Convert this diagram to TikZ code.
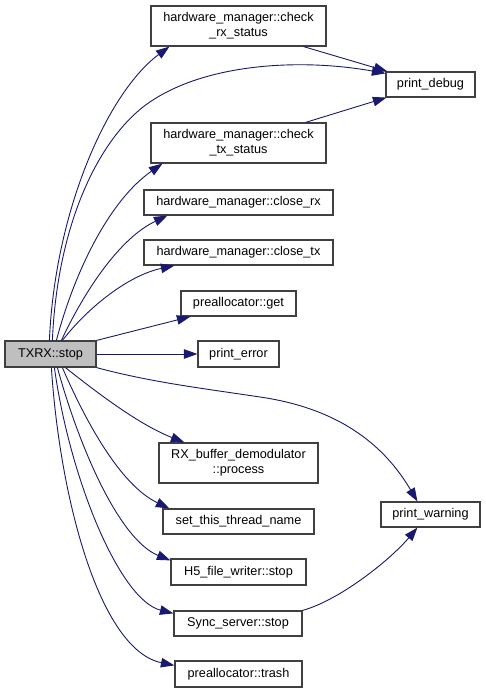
\documentclass[tikz,border=0pt]{standalone}
\usepackage{fontspec}
\setmainfont{Liberation Sans}
\usetikzlibrary{arrows.meta,calc}
\definecolor{edgec}{HTML}{191970}
\definecolor{boxc}{HTML}{404040}
\begin{document}
\begin{tikzpicture}[x=1pt,y=-1pt,
  fn/.style={draw=boxc,line width=1.2pt,fill=white,inner sep=0pt,align=center,
    font=\fontsize{12.7}{15}\selectfont},
  call/.style={draw=edgec,line width=0.9pt,-{Triangle[length=13.5pt,width=9.5pt]},fill=none},
]
\useasboundingbox (0,0) rectangle (485,693);
\fill[white] (0,0) rectangle (485,693);
% nodes
\node[fn,minimum width=175pt,minimum height=40pt] (crx) at (238.5,26) {hardware\_manager::check\\\_rx\_status};
\node[fn,minimum width=89pt,minimum height=25pt] (pdbg) at (430.5,84.5) {print\_debug};
\node[fn,minimum width=175pt,minimum height=40pt] (ctx) at (238.5,143) {hardware\_manager::check\\\_tx\_status};
\node[fn,minimum width=189pt,minimum height=25pt] (clrx) at (238.5,202.5) {hardware\_manager::close\_rx};
\node[fn,minimum width=189pt,minimum height=25pt] (cltx) at (238.5,252.5) {hardware\_manager::close\_tx};
\node[fn,minimum width=115pt,minimum height=25pt] (pget) at (238.5,303.5) {preallocator::get};
\node[fn,fill=black!25,minimum width=91pt,minimum height=26pt] (txrx) at (50.5,354) {TXRX::stop};
\node[fn,minimum width=81pt,minimum height=26pt] (perr) at (238.5,354) {print\_error};
\node[fn,minimum width=159pt,minimum height=40pt] (rxb) at (238.5,463) {RX\_buffer\_demodulator\\::process};
\node[fn,minimum width=151pt,minimum height=25pt] (sttn) at (238.5,521.5) {set\_this\_thread\_name};
\node[fn,minimum width=135pt,minimum height=26pt] (h5) at (238.5,572) {H5\_file\_writer::stop};
\node[fn,minimum width=128pt,minimum height=25pt] (sync) at (238,623.5) {Sync\_server::stop};
\node[fn,minimum width=127pt,minimum height=26pt] (trash) at (238.5,674) {preallocator::trash};
\node[fn,minimum width=99pt,minimum height=25pt] (pwarn) at (430.5,514.5) {print\_warning};
% edges from TXRX::stop
\draw[call] ($(txrx.north west)+(45,0)$) .. controls (55,210) and (108,92) .. ($(crx.south west)+(19,0)$);
\draw[call] ($(txrx.north west)+(48,0)$) .. controls (57,230) and (95,145) .. (143,107) .. controls (200,63) and (300,58) .. ($(pdbg.north west)+(0,2)$);
\draw[call] ($(txrx.north west)+(52,0)$) .. controls (75,270) and (110,200) .. ($(ctx.south west)+(12,0)$);
\draw[call] ($(txrx.north west)+(57,0)$) .. controls (85,290) and (120,238) .. ($(clrx.south west)+(24,0)$);
\draw[call] ($(txrx.north west)+(58,0)$) .. controls (90,305) and (130,275) .. ($(cltx.south west)+(31,0)$);
\draw[call] (txrx.north east) -- ($(pget.south west)+(10,0)$);
\draw[call] (txrx.east) -- (perr.west);
\draw[call] (txrx.south east) .. controls (150,382) and (200,388) .. (260,397) .. controls (350,410) and (390,455) .. ($(pwarn.north west)+(37,0)$);
\draw[call] ($(txrx.south west)+(61,0)$) .. controls (100,395) and (140,425) .. ($(rxb.north west)+(26,0)$);
\draw[call] ($(txrx.south west)+(58,0)$) .. controls (85,420) and (120,485) .. ($(sttn.north west)+(7,0)$);
\draw[call] ($(txrx.south west)+(53,0)$) .. controls (80,450) and (120,540) .. ($(h5.north west)+(0,2)$);
\draw[call] ($(txrx.south west)+(50,0)$) .. controls (70,480) and (120,600) .. ($(sync.north west)+(0,3)$);
\draw[call] ($(txrx.south west)+(47,0)$) .. controls (60,500) and (100,650) .. ($(trash.north west)+(0,5)$);
% other edges
\draw[call] ($(crx.south east)+(-23,0)$) -- ($(pdbg.north west)+(2,0)$);
\draw[call] ($(ctx.north east)+(-21,0)$) -- ($(pdbg.south west)+(1,0)$);
\draw[call] (sync.north east) .. controls (340,600) and (390,560) .. ($(pwarn.south west)+(37,0)$);
\end{tikzpicture}
\end{document}
